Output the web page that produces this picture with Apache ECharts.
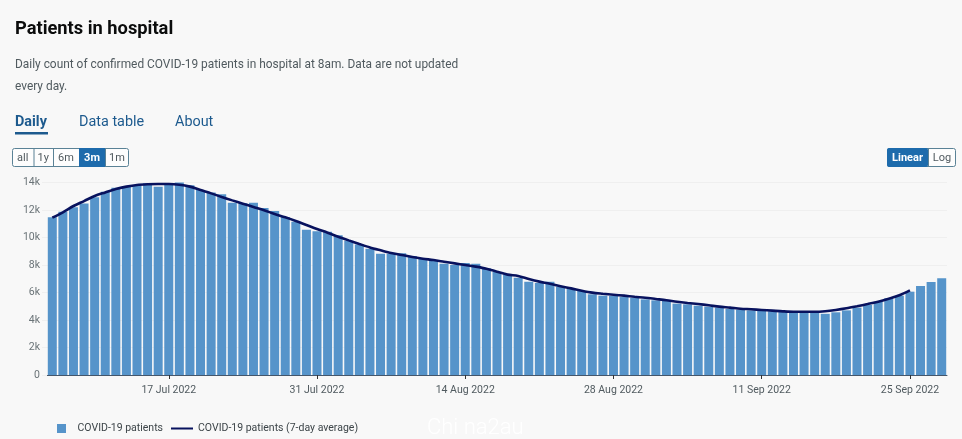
<!DOCTYPE html>
<html>
<head>
<meta charset="utf-8">
<style>html,body{margin:0;padding:0;background:#f8f8f8}#c{width:962px;height:439px}</style>
<script src="https://cdn.jsdelivr.net/npm/echarts@6/dist/echarts.min.js"></script>
</head>
<body>
<div id="c"></div>
<script>
var categories = [
"6 Jul 2022","7 Jul 2022","8 Jul 2022","9 Jul 2022","10 Jul 2022","11 Jul 2022","12 Jul 2022","13 Jul 2022","14 Jul 2022","15 Jul 2022","16 Jul 2022","17 Jul 2022","18 Jul 2022","19 Jul 2022","20 Jul 2022","21 Jul 2022","22 Jul 2022","23 Jul 2022","24 Jul 2022","25 Jul 2022","26 Jul 2022","27 Jul 2022","28 Jul 2022","29 Jul 2022","30 Jul 2022","31 Jul 2022",
"1 Aug 2022","2 Aug 2022","3 Aug 2022","4 Aug 2022","5 Aug 2022","6 Aug 2022","7 Aug 2022","8 Aug 2022","9 Aug 2022","10 Aug 2022","11 Aug 2022","12 Aug 2022","13 Aug 2022","14 Aug 2022","15 Aug 2022","16 Aug 2022","17 Aug 2022","18 Aug 2022","19 Aug 2022","20 Aug 2022","21 Aug 2022","22 Aug 2022","23 Aug 2022","24 Aug 2022","25 Aug 2022","26 Aug 2022","27 Aug 2022","28 Aug 2022","29 Aug 2022","30 Aug 2022","31 Aug 2022",
"1 Sep 2022","2 Sep 2022","3 Sep 2022","4 Sep 2022","5 Sep 2022","6 Sep 2022","7 Sep 2022","8 Sep 2022","9 Sep 2022","10 Sep 2022","11 Sep 2022","12 Sep 2022","13 Sep 2022","14 Sep 2022","15 Sep 2022","16 Sep 2022","17 Sep 2022","18 Sep 2022","19 Sep 2022","20 Sep 2022","21 Sep 2022","22 Sep 2022","23 Sep 2022","24 Sep 2022","25 Sep 2022","26 Sep 2022","27 Sep 2022","28 Sep 2022"];
var labelledDates = ["17 Jul 2022","31 Jul 2022","14 Aug 2022","28 Aug 2022","11 Sep 2022","25 Sep 2022"];
var patients = [
11470,11880,12200,12480,12920,13330,13620,13745,13800,13950,13700,13850,14000,13800,13450,13280,13140,12530,12500,12530,12140,11930,11490,11150,10570,10450,
10420,10160,9770,9500,9190,8820,8820,8850,8650,8460,8360,8100,8000,8145,8100,7760,7490,7320,7080,6780,6700,6790,6420,6300,6110,5870,5770,5745,5670,5600,5500,
5430,5420,5190,5140,5040,4970,4900,4800,4750,4700,4680,4630,4580,4560,4560,4560,4450,4560,4700,4900,5090,5330,5580,5770,6060,6470,6760,7030];
var average = [
11440,11830,12290,12650,13020,13280,13530,13700,13820,13870,13890,13890,13840,13700,13450,13210,12950,12700,12460,12220,11980,11710,11470,11200,10910,10620,
10350,10060,9790,9530,9280,9070,8870,8730,8580,8460,8360,8240,8120,8000,7880,7730,7510,7300,7200,6980,6790,6640,6450,6300,6130,5990,5910,5840,5770,5690,5620,
5530,5440,5330,5240,5160,5070,4970,4900,4820,4780,4730,4680,4630,4600,4600,4600,4640,4730,4850,5000,5160,5330,5550,5800,6160,null,null,null];
var yTicks = {0:"0",2000:"2k",4000:"4k",6000:"6k",8000:"8k",10000:"10k",12000:"12k",14000:"14k"};
var seriesNames = ["COVID-19 patients","COVID-19 patients (7-day average)"];
var titleText = "Patients in hospital";
var subtitleLines = ["Daily count of confirmed COVID-19 patients in hospital at 8am. Data are not updated","every day."];
var tabs = [["Daily",15],["Data table",79],["About",175]];
var rangeButtons = [["all",12,33.5],["1y",33.5,53],["6m",53,79],["3m",79,105],["1m",105,129]];
var scaleButtons = [["Linear",887,928],["Log",928,956]];
var activeRange = "3m", activeScale = "Linear";
var watermark = "Chi na2au";

var FONT = 'Roboto, "Noto Sans", sans-serif';
var BLUE = '#1d6bac', BORDER = '#5a8296';
var g = [];
function txt(x,y,s,size,color,weight,align){
  g.push({type:'text',x:x,y:y,silent:true,style:{text:s,fontFamily:FONT,fontSize:size,fontWeight:weight||400,fill:color,textAlign:align||'left',textVerticalAlign:'middle'}});
}
txt(15,29,titleText,18.3,'#0b0c0c',700);
txt(15,65,subtitleLines[0],11.9,'#505a5f');
txt(15,87,subtitleLines[1],11.9,'#505a5f');
tabs.forEach(function(t,i){ txt(t[1],122,t[0],14.4,'#1d5a8e',i===0?700:400); });
g.push({type:'rect',silent:true,shape:{x:15,y:132,width:33,height:2.5},style:{fill:'#1d5a8e'}});
function btnRow(list,active){
  var x0=list[0][1],x1=list[list.length-1][2];
  g.push({type:'rect',silent:true,shape:{x:x0+.5,y:148.5,width:x1-x0-1,height:18,r:2},style:{fill:'#fdfdfd',stroke:BORDER,lineWidth:1}});
  list.forEach(function(b,i){
    if(b[0]===active) g.push({type:'rect',silent:true,shape:{x:b[1],y:148,width:b[2]-b[1],height:19,r:i===0?2:0},style:{fill:BLUE}});
    else if(i>0) g.push({type:'rect',silent:true,shape:{x:b[1],y:148.5,width:1,height:18},style:{fill:BORDER}});
    txt((b[1]+b[2])/2,158,b[0],11,b[0]===active?'#fff':'#505a5f',b[0]===active?700:400,'center');
  });
}
btnRow(rangeButtons,activeRange);
btnRow(scaleButtons,activeScale);
g.push({type:'text',x:427,y:428,silent:true,style:{text:watermark,fontFamily:FONT,fontSize:22,fontWeight:300,fill:'#ffffff',textVerticalAlign:'middle'}});

var chart = echarts.init(document.getElementById('c'),null,{width:962,height:439});
chart.setOption({
  animation:false,
  backgroundColor:'#f8f8f8',
  textStyle:{fontFamily:FONT},
  grid:{left:47,right:15,top:182.5,bottom:64,containLabel:false},
  legend:{left:57,top:423,padding:0,itemGap:8,itemWidth:22,itemHeight:9,selectedMode:false,
    textStyle:{fontFamily:FONT,fontSize:10.5,color:'#3c4448',padding:[0,0,0,0]},
    data:[{name:seriesNames[0],icon:'path://M0 0H9V9H0Z'},{name:seriesNames[1],icon:'path://M0 0H22V2H0Z'}]},
  xAxis:{type:'category',data:categories,boundaryGap:true,
    axisLine:{show:true,lineStyle:{color:'#45566a',width:1}},
    axisTick:{show:true,alignWithLabel:true,length:4,lineStyle:{color:'#333'},
      interval:function(i,v){return labelledDates.indexOf(v)>=0;}},
    axisLabel:{color:'#505a5f',fontSize:10.5,margin:10,hideOverlap:false,
      interval:function(i,v){return labelledDates.indexOf(v)>=0;}}},
  yAxis:{type:'value',min:0,max:14000,interval:2000,
    axisLine:{show:false},
    axisTick:{show:true,length:5,lineStyle:{color:'#efefef'}},
    splitLine:{show:true,lineStyle:{color:'#efefef',width:1}},
    axisLabel:{color:'#6a7377',fontSize:10.5,margin:7,padding:[4,0,0,0],formatter:function(v){return yTicks[v];}}},
  tooltip:{show:false},
  series:[
    {name:seriesNames[0],type:'bar',data:patients,barCategoryGap:'15%',itemStyle:{color:'#5694ca'},silent:true},
    {name:seriesNames[1],type:'line',data:average,showSymbol:false,symbol:'none',smooth:0.3,connectNulls:false,
      lineStyle:{color:'#08125e',width:2.6},itemStyle:{color:'#08125e'},silent:true,z:5}
  ],
  graphic:{elements:g}
});
</script>
</body>
</html>
